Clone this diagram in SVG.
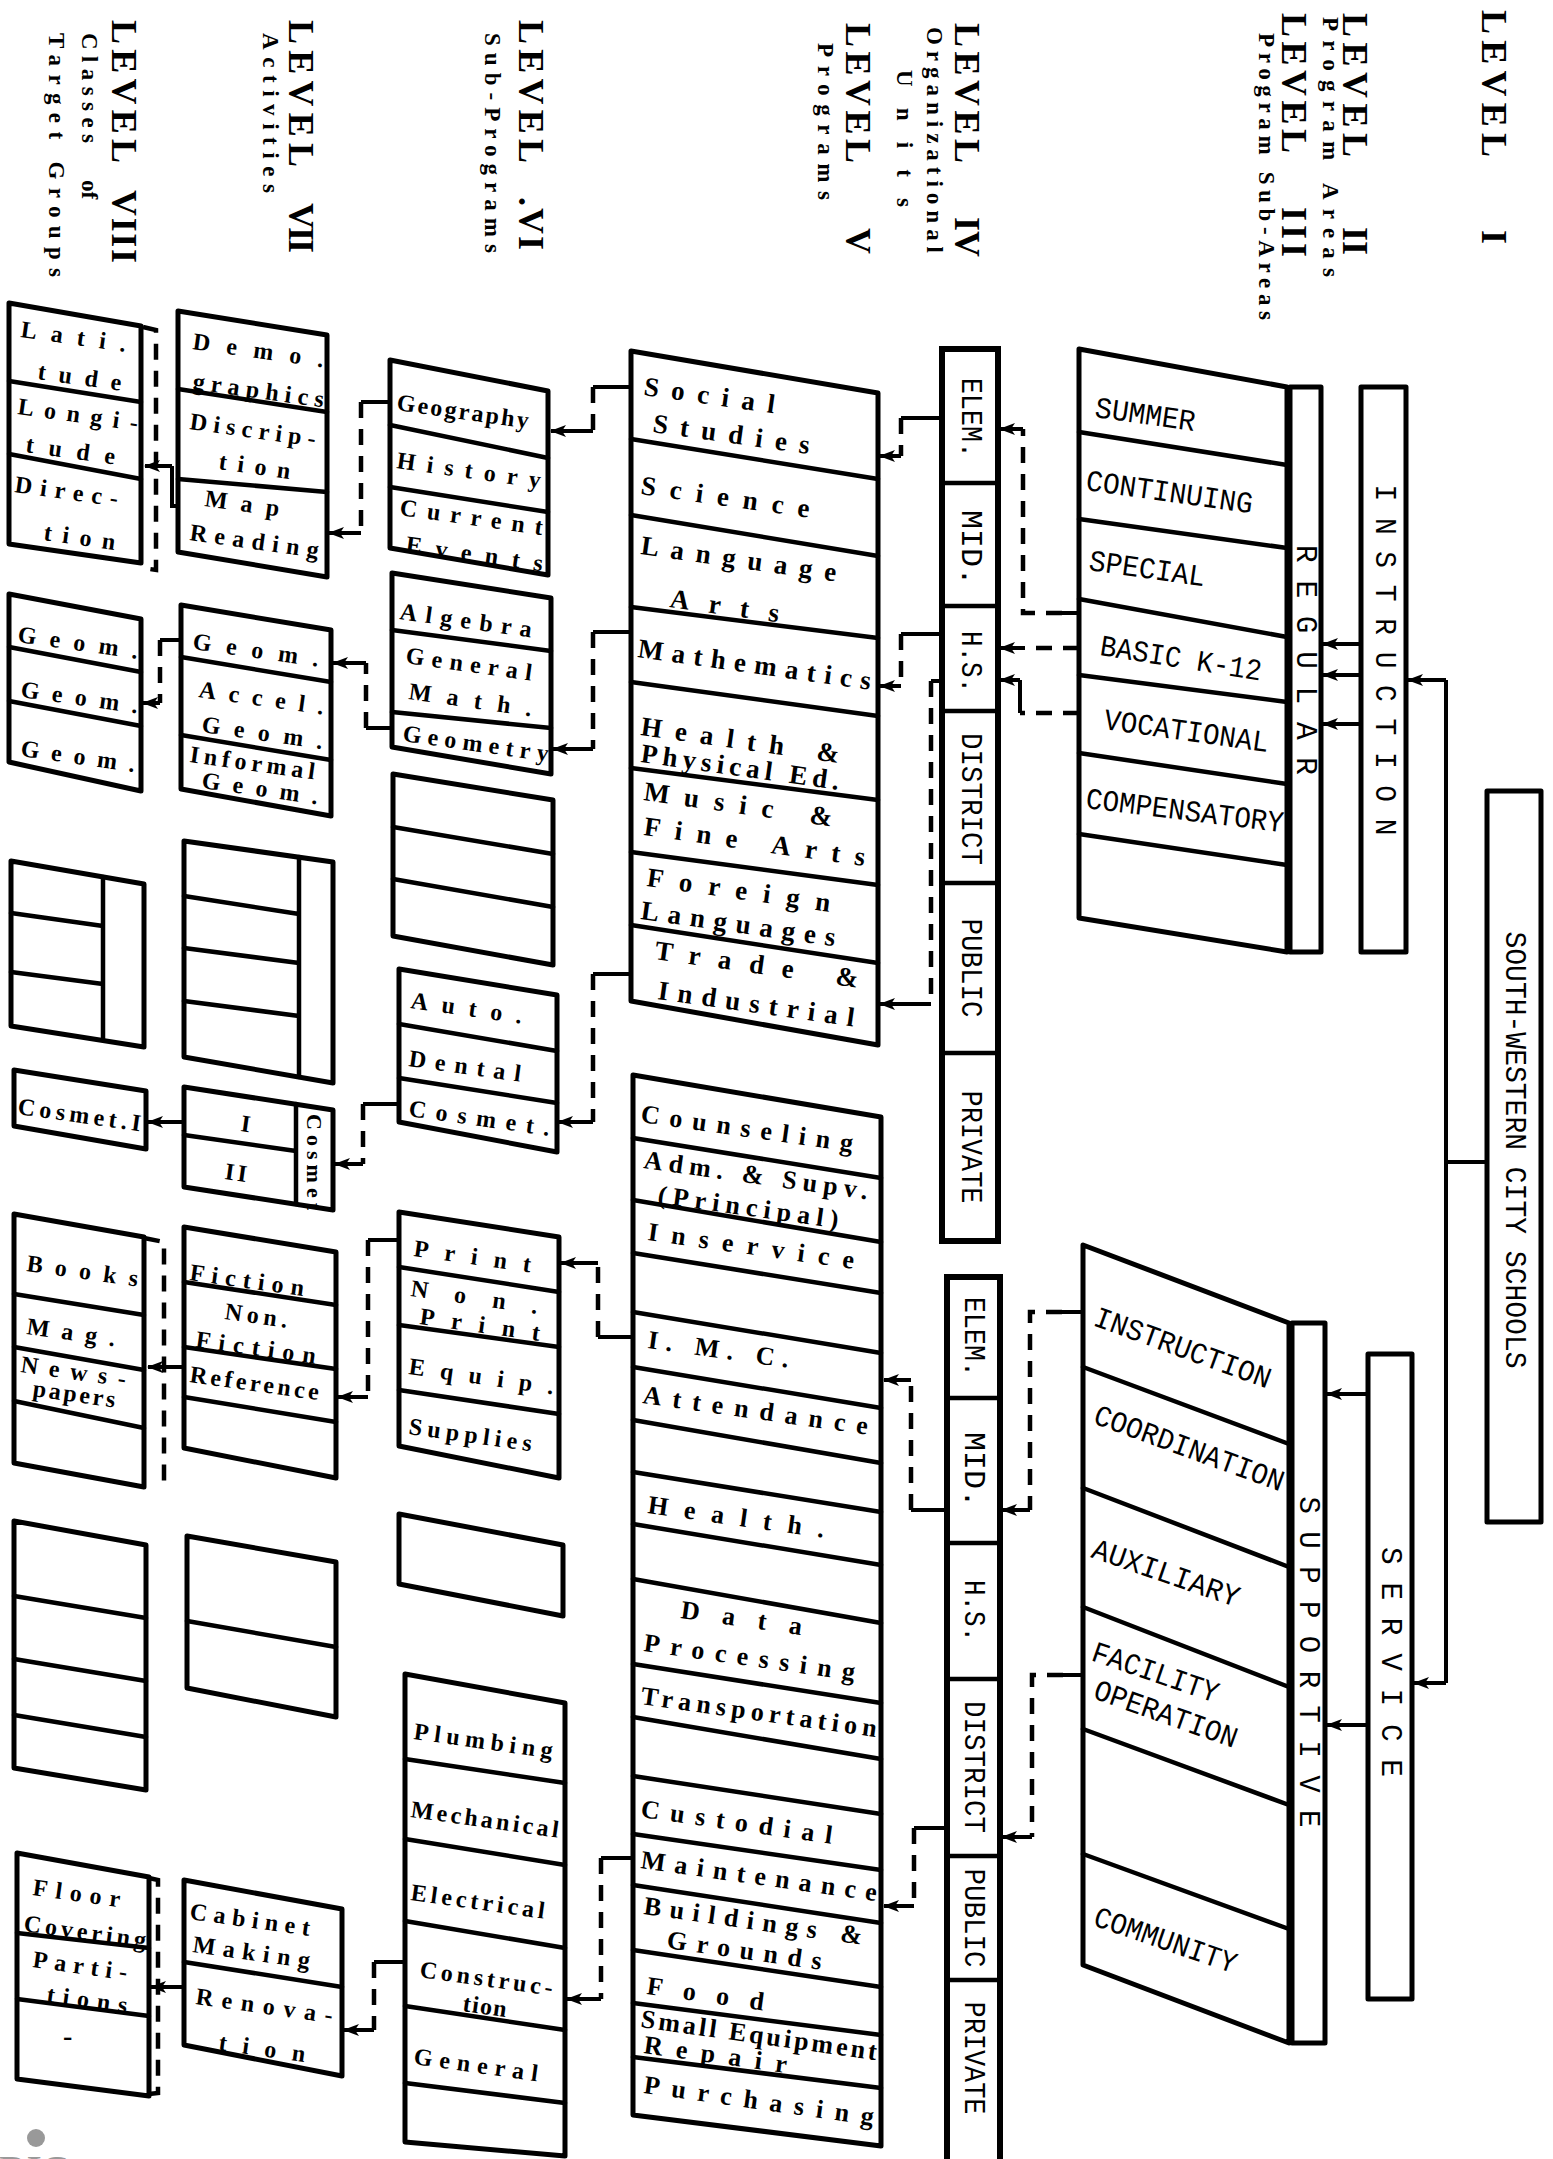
<svg xmlns="http://www.w3.org/2000/svg" width="1553" height="2159" viewBox="0 0 1553 2159">
<style>
.b{fill:none;stroke:#000;stroke-width:5;stroke-linejoin:round}
.c{fill:none;stroke:#000;stroke-width:6}
.d{fill:none;stroke:#000;stroke-width:4.5;stroke-linecap:round}
.s{fill:none;stroke:#000;stroke-width:4}
.q{fill:none;stroke:#000;stroke-width:4.5;stroke-dasharray:16 11}
.lv{font-family:"Liberation Serif",serif;font-weight:bold;font-size:36px;fill:#000}
.ls{font-family:"Liberation Serif",serif;font-weight:bold;font-size:23px;fill:#000}
.mv{font-family:"Liberation Mono",monospace;font-size:30px;fill:#000}
.m{font-family:"Liberation Mono",monospace;font-size:30px;fill:#000}
.t5{font-family:"Liberation Serif",serif;font-weight:bold;font-size:27px;fill:#000}
.t6{font-family:"Liberation Serif",serif;font-weight:bold;font-size:24px;fill:#000}
</style>
<defs>
<marker id="a" viewBox="0 0 16 12" refX="15" refY="6" markerWidth="16" markerHeight="12" markerUnits="userSpaceOnUse" orient="auto"><path d="M0,0L16,6L0,12L4,6Z" fill="#000"/></marker>
</defs>
<rect width="1553" height="2159" fill="#fff"/>

<g id="level-labels">
<text class="lv" transform="translate(1494,10) rotate(90)" dominant-baseline="central" textLength="147">LEVEL</text>
<text class="lv" transform="translate(1494,230) rotate(90)" dominant-baseline="central">I</text>
<text class="lv" transform="translate(1355,13) rotate(90)" dominant-baseline="central" textLength="144">LEVEL</text>
<text class="lv" transform="translate(1355,227) rotate(90)" dominant-baseline="central">II</text>
<text class="ls" transform="translate(1330,17) rotate(90)" dominant-baseline="central" textLength="260">Program Areas</text>
<text class="lv" transform="translate(1294,13) rotate(90)" dominant-baseline="central" textLength="140">LEVEL</text>
<text class="lv" transform="translate(1294,207) rotate(90)" dominant-baseline="central" textLength="50">III</text>
<text class="ls" transform="translate(1266,33) rotate(90)" dominant-baseline="central" textLength="287">Program Sub-Areas</text>
<text class="lv" transform="translate(967,23) rotate(90)" dominant-baseline="central" textLength="140">LEVEL</text>
<text class="lv" transform="translate(967,217) rotate(90)" dominant-baseline="central">IV</text>
<text class="ls" transform="translate(934,27) rotate(90)" dominant-baseline="central" textLength="226">Organizational</text>
<text class="ls" transform="translate(904,70) rotate(90)" dominant-baseline="central" textLength="137">Units</text>
<text class="lv" transform="translate(858,23) rotate(90)" dominant-baseline="central" textLength="140">LEVEL</text>
<text class="lv" transform="translate(858,228) rotate(90)" dominant-baseline="central">V</text>
<text class="ls" transform="translate(825,43) rotate(90)" dominant-baseline="central" textLength="157">Programs</text>
<text class="lv" transform="translate(531,20) rotate(90)" dominant-baseline="central" textLength="143">LEVEL</text>
<text class="lv" transform="translate(531,197) rotate(90)" dominant-baseline="central" textLength="53">.VI</text>
<text class="ls" transform="translate(492,33) rotate(90)" dominant-baseline="central" textLength="220">Sub-Programs</text>
<text class="lv" transform="translate(301,20) rotate(90)" dominant-baseline="central" textLength="147">LEVEL</text>
<text class="lv" transform="translate(301,203) rotate(90)" dominant-baseline="central" textLength="50">VII</text>
<text class="ls" transform="translate(270,33) rotate(90)" dominant-baseline="central" textLength="160">Activities</text>
<text class="lv" transform="translate(124,20) rotate(90)" dominant-baseline="central" textLength="143">LEVEL</text>
<text class="lv" transform="translate(124,190) rotate(90)" dominant-baseline="central" textLength="73">VIII</text>
<text class="ls" transform="translate(89,33) rotate(90)" dominant-baseline="central" textLength="110">Classes</text>
<text class="ls" transform="translate(89,180) rotate(90)" dominant-baseline="central">of</text>
<text class="ls" transform="translate(56,33) rotate(90)" dominant-baseline="central" textLength="244">Target Groups</text>
</g>

<g id="swcs">
<rect class="b" x="1487" y="791" width="54" height="731"/>
<text class="mv" transform="translate(1514,1150) rotate(90)" text-anchor="middle" dominant-baseline="central" textLength="437" lengthAdjust="spacingAndGlyphs">SOUTH-WESTERN CITY SCHOOLS</text>
</g>

<g id="instruction">
<rect class="b" x="1361" y="387" width="45" height="565"/>
<text class="mv" transform="translate(1384,660) rotate(90)" text-anchor="middle" dominant-baseline="central" textLength="351" lengthAdjust="spacingAndGlyphs">I N S T R U C T I O N</text>
</g>
<g id="service">
<rect class="b" x="1368" y="1354" width="44" height="645"/>
<text class="mv" transform="translate(1390,1662) rotate(90)" text-anchor="middle" dominant-baseline="central" textLength="230" lengthAdjust="spacingAndGlyphs">S E R V I C E</text>
</g>
<g id="regular">
<rect class="b" x="1290" y="387" width="31" height="565"/>
<text class="mv" transform="translate(1305,660) rotate(90)" text-anchor="middle" dominant-baseline="central" textLength="230" lengthAdjust="spacingAndGlyphs">R E G U L A R</text>
</g>
<g id="supportive">
<rect class="b" x="1292" y="1323" width="33" height="720"/>
<text class="mv" transform="translate(1308,1662) rotate(90)" text-anchor="middle" dominant-baseline="central" textLength="331" lengthAdjust="spacingAndGlyphs">S U P P O R T I V E</text>
</g>

<g id="sub-areas-regular">
<polygon class="b" points="1079,349 1287,387 1287,952 1079,918"/>
<path class="d" d="M1079,432L1287,465M1079,519L1287,548M1079,599L1287,637M1079,675L1287,702M1079,753L1287,784M1079,834L1287,865"/>
<text class="m" x="1094" y="417" textLength="101" lengthAdjust="spacingAndGlyphs" transform="rotate(8 1094 417)">SUMMER</text>
<text class="m" x="1085" y="490" textLength="168" lengthAdjust="spacingAndGlyphs" transform="rotate(8 1085 490)">CONTINUING</text>
<text class="m" x="1088" y="570" textLength="117" lengthAdjust="spacingAndGlyphs" transform="rotate(8 1088 570)">SPECIAL</text>
<text class="m" x="1099" y="655" textLength="163" lengthAdjust="spacingAndGlyphs" transform="rotate(9 1099 655)">BASIC K-12</text>
<text class="m" x="1103" y="729" textLength="166" lengthAdjust="spacingAndGlyphs" transform="rotate(8 1103 729)">VOCATIONAL</text>
<text class="m" x="1085" y="808" textLength="199" lengthAdjust="spacingAndGlyphs" transform="rotate(7 1085 808)">COMPENSATORY</text>
</g>

<g id="sub-areas-supportive">
<polygon class="b" points="1083,1245 1289,1323 1289,2043 1083,1965"/>
<path class="d" d="M1083,1367L1289,1444M1083,1488L1289,1567M1083,1607L1289,1687M1083,1729L1289,1805M1083,1854L1289,1929"/>
<text class="m" x="1092" y="1325" textLength="186" lengthAdjust="spacingAndGlyphs" transform="rotate(20 1092 1325)">INSTRUCTION</text>
<text class="m" x="1092" y="1423" textLength="200" lengthAdjust="spacingAndGlyphs" transform="rotate(20 1092 1423)">COORDINATION</text>
<text class="m" x="1090" y="1557" textLength="154" lengthAdjust="spacingAndGlyphs" transform="rotate(19 1090 1557)">AUXILIARY</text>
<text class="m" x="1090" y="1660" textLength="132" lengthAdjust="spacingAndGlyphs" transform="rotate(19 1090 1660)">FACILITY</text>
<text class="m" x="1092" y="1698" textLength="150" lengthAdjust="spacingAndGlyphs" transform="rotate(19.5 1092 1698)">OPERATION</text>
<text class="m" x="1092" y="1925" textLength="149" lengthAdjust="spacingAndGlyphs" transform="rotate(19 1092 1925)">COMMUNITY</text>
</g>

<g id="org-units-instruction">
<rect class="c" x="942" y="349" width="56" height="892"/>
<path class="d" d="M942,483H998M942,606H998M942,711H998M942,883H998M942,1053H998"/>
<g class="mv" text-anchor="middle" dominant-baseline="central">
<text transform="translate(970,418) rotate(90)" textLength="80" lengthAdjust="spacingAndGlyphs">ELEM.</text>
<text transform="translate(970,548) rotate(90)" textLength="76" lengthAdjust="spacingAndGlyphs">MID.</text>
<text transform="translate(970,662) rotate(90)" textLength="62" lengthAdjust="spacingAndGlyphs">H.S.</text>
<text transform="translate(970,799) rotate(90)" textLength="132" lengthAdjust="spacingAndGlyphs">DISTRICT</text>
<text transform="translate(970,968) rotate(90)" textLength="99" lengthAdjust="spacingAndGlyphs">PUBLIC</text>
<text transform="translate(970,1147) rotate(90)" textLength="113" lengthAdjust="spacingAndGlyphs">PRIVATE</text>
</g>
</g>

<g id="org-units-service">
<rect class="c" x="947" y="1277" width="53" height="892"/>
<path class="d" d="M947,1398H1000M947,1543H1000M947,1679H1000M947,1856H1000M947,1980H1000"/>
<g class="mv" text-anchor="middle" dominant-baseline="central">
<text transform="translate(973,1337) rotate(90)" textLength="80" lengthAdjust="spacingAndGlyphs">ELEM.</text>
<text transform="translate(973,1470) rotate(90)" textLength="76" lengthAdjust="spacingAndGlyphs">MID.</text>
<text transform="translate(973,1611) rotate(90)" textLength="62" lengthAdjust="spacingAndGlyphs">H.S.</text>
<text transform="translate(973,1767) rotate(90)" textLength="132" lengthAdjust="spacingAndGlyphs">DISTRICT</text>
<text transform="translate(973,1918) rotate(90)" textLength="99" lengthAdjust="spacingAndGlyphs">PUBLIC</text>
<text transform="translate(973,2058) rotate(90)" textLength="113" lengthAdjust="spacingAndGlyphs">PRIVATE</text>
</g>
</g>

<g id="programs-instruction">
<polygon class="b" points="631,351 878,393 878,1045 631,1001"/>
<path class="d" d="M631,439L878,479M631,515L878,556M631,607L878,638M631,682L878,716M631,768L878,800M631,852L878,885M631,925L878,963"/>
<g class="t5">
<text x="643" y="395" textLength="132" transform="rotate(8 643 395)">Social</text>
<text x="652" y="432" textLength="158" transform="rotate(8 652 432)">Studies</text>
<text x="640" y="494" textLength="170" transform="rotate(8 640 494)">Science</text>
<text x="640" y="554" textLength="197" transform="rotate(8 640 554)">Language</text>
<text x="669" y="607" textLength="110" transform="rotate(8 669 607)">Arts</text>
<text x="637" y="657" textLength="235" transform="rotate(8 637 657)">Mathematics</text>
<text x="640" y="735" textLength="200" transform="rotate(8 640 735)">Health &amp;</text>
<text x="640" y="762" textLength="200" transform="rotate(8 640 762)">Physical Ed.</text>
<text x="643" y="800" textLength="190" transform="rotate(8 643 800)">Music &amp;</text>
<text x="643" y="835" textLength="223" transform="rotate(8 643 835)">Fine Arts</text>
<text x="646" y="886" textLength="185" transform="rotate(8 646 886)">Foreign</text>
<text x="640" y="919" textLength="196" transform="rotate(8 640 919)">Languages</text>
<text x="654" y="959" textLength="205" transform="rotate(8 654 959)">Trade &amp;</text>
<text x="657" y="999" textLength="198" transform="rotate(8 657 999)">Industrial</text>
</g>
</g>

<g id="programs-service">
<polygon class="b" points="633,1075 881,1117 881,2146 633,2115"/>
<path class="d" d="M633,1138L881,1178M633,1200L881,1242M633,1253L881,1293M633,1312L881,1353M633,1367L881,1408M633,1420L881,1463M633,1472L881,1512M633,1524L881,1565M633,1579L881,1623M633,1664L881,1703M633,1717L881,1759M633,1776L881,1814M633,1834L881,1870M633,1885L881,1923M633,1950L881,1987M633,2003L881,2035M633,2057L881,2088"/>
<g class="t5" style="font-size:26px">
<text x="640" y="1122" textLength="214" transform="rotate(8 640 1122)">Counseling</text>
<text x="643" y="1168" textLength="226" transform="rotate(8 643 1168)">Adm. &amp; Supv.</text>
<text x="657" y="1203" textLength="182" transform="rotate(8 657 1203)">(Principal)</text>
<text x="647" y="1240" textLength="208" transform="rotate(8 647 1240)">Inservice</text>
<text x="647" y="1348" textLength="142" transform="rotate(8 647 1348)">I. M. C.</text>
<text x="642" y="1403" textLength="227" transform="rotate(8 642 1403)">Attendance</text>
<text x="647" y="1513" textLength="178" transform="rotate(8 647 1513)">Health.</text>
<text x="680" y="1618" textLength="122" transform="rotate(8 680 1618)">Data</text>
<text x="643" y="1651" textLength="213" transform="rotate(8 643 1651)">Processing</text>
<text x="640" y="1704" textLength="238" transform="rotate(8 640 1704)">Transportation</text>
<text x="640" y="1817" textLength="193" transform="rotate(8 640 1817)">Custodial</text>
<text x="640" y="1868" textLength="238" transform="rotate(8 640 1868)">Maintenance</text>
<text x="643" y="1914" textLength="220" transform="rotate(8 643 1914)">Buildings &amp;</text>
<text x="666" y="1948" textLength="156" transform="rotate(8 666 1948)">Grounds</text>
<text x="646" y="1994" textLength="118" transform="rotate(8 646 1994)">Food</text>
<text x="640" y="2027" textLength="238" transform="rotate(8 640 2027)">Small Equipment</text>
<text x="643" y="2053" textLength="144" transform="rotate(8 643 2053)">Repair</text>
<text x="643" y="2093" textLength="232" transform="rotate(8 643 2093)">Purchasing</text>
</g>
</g>

<g id="subprograms-social">
<polygon class="b" points="390,360 548,391 548,575 390,548"/>
<path class="d" d="M390,425L548,458M390,487L548,512"/>
<g class="t6">
<text x="396" y="410" textLength="133" transform="rotate(8 396 410)">Geography</text>
<text x="396" y="468" textLength="145" transform="rotate(8 396 468)">History</text>
<text x="399" y="515" textLength="144" transform="rotate(8 399 515)">Current</text>
<text x="405" y="552" textLength="138" transform="rotate(8 405 552)">Events</text>
</g>
</g>
<g id="subprograms-math">
<polygon class="b" points="392,573 551,598 551,774 392,747"/>
<path class="d" d="M392,630L551,651M392,712L551,728"/>
<g class="t6">
<text x="399" y="619" textLength="133" transform="rotate(8 399 619)">Algebra</text>
<text x="405" y="663" textLength="127" transform="rotate(8 405 663)">General</text>
<text x="408" y="699" textLength="124" transform="rotate(8 408 699)">Math.</text>
<text x="402" y="741" textLength="147" transform="rotate(8 402 741)">Geometry</text>
</g>
</g>
<g id="subprograms-empty-1">
<polygon class="b" points="393,774 553,800 553,965 393,936"/>
<path class="d" d="M393,827L553,854M393,879L553,907"/>
</g>
<g id="subprograms-trade">
<polygon class="b" points="399,969 557,995 557,1152 399,1122"/>
<path class="d" d="M399,1024L557,1051M399,1078L557,1103"/>
<g class="t6">
<text x="410" y="1008" textLength="112" transform="rotate(8 410 1008)">Auto.</text>
<text x="408" y="1066" textLength="113" transform="rotate(8 408 1066)">Dental</text>
<text x="408" y="1116" textLength="142" transform="rotate(8 408 1116)">Cosmet.</text>
</g>
</g>
<g id="subprograms-imc">
<polygon class="b" points="399,1212 559,1237 559,1478 399,1446"/>
<path class="d" d="M399,1267L559,1292M399,1325L559,1347M399,1390L559,1414"/>
<g class="t6">
<text x="413" y="1256" textLength="118" transform="rotate(8 413 1256)">Print</text>
<text x="410" y="1296" textLength="128" transform="rotate(8 410 1296)">Non.</text>
<text x="419" y="1324" textLength="121" transform="rotate(8 419 1324)">Print</text>
<text x="408" y="1374" textLength="146" transform="rotate(8 408 1374)">Equip.</text>
<text x="408" y="1434" textLength="124" transform="rotate(8 408 1434)">Supplies</text>
</g>
</g>
<g id="subprograms-empty-2">
<polygon class="b" points="399,1514 563,1545 563,1616 399,1584"/>
</g>
<g id="subprograms-maintenance">
<polygon class="b" points="405,1674 565,1703 565,2156 405,2142"/>
<path class="d" d="M405,1759L565,1783M405,1839L565,1865M405,1921L565,1948M405,2006L565,2030M405,2083L565,2103"/>
<g class="t6">
<text x="413" y="1739" textLength="140" transform="rotate(8 413 1739)">Plumbing</text>
<text x="410" y="1817" textLength="149" transform="rotate(8 410 1817)">Mechanical</text>
<text x="410" y="1900" textLength="135" transform="rotate(8 410 1900)">Electrical</text>
<text x="419" y="1977" textLength="134" transform="rotate(8 419 1977)">Construc-</text>
<text x="462" y="2011" textLength="44" transform="rotate(8 462 2011)">tion</text>
<text x="413" y="2064" textLength="125" transform="rotate(8 413 2064)">General</text>
</g>
</g>

<g id="activities-geography">
<polygon class="b" points="178,311 327,335 327,577 178,552"/>
<path class="d" d="M178,389L327,412M178,479L327,492"/>
<g class="t6">
<text x="192" y="349" textLength="132" transform="rotate(8 192 349)">Demo.</text>
<text x="192" y="389" textLength="132" transform="rotate(8 192 389)">graphics</text>
<text x="189" y="429" textLength="127" transform="rotate(8 189 429)">Discrip-</text>
<text x="218" y="469" textLength="72" transform="rotate(8 218 469)">tion</text>
<text x="204" y="506" textLength="75" transform="rotate(8 204 506)">Map</text>
<text x="189" y="540" textLength="130" transform="rotate(8 189 540)">Reading</text>
</g>
</g>
<g id="activities-geometry">
<polygon class="b" points="181,605 331,630 331,816 181,789"/>
<path class="d" d="M181,657L331,682M181,735L331,760"/>
<g class="t6">
<text x="192" y="649" textLength="127" transform="rotate(8 192 649)">Geom.</text>
<text x="198" y="697" textLength="126" transform="rotate(8 198 697)">Accel.</text>
<text x="201" y="732" textLength="122" transform="rotate(8 201 732)">Geom.</text>
<text x="189" y="762" textLength="126" transform="rotate(8 189 762)">Informal</text>
<text x="201" y="788" textLength="117" transform="rotate(8 201 788)">Geom.</text>
</g>
</g>
<g id="activities-empty-1">
<polygon class="b" points="184,841 333,862 333,1083 184,1057"/>
<path class="d" d="M184,896L299,914M184,948L299,963M184,1001L299,1016M299,857L299,1077"/>
</g>
<g id="activities-cosmet">
<polygon class="b" points="184,1087 333,1110 333,1210 184,1187"/>
<path class="d" d="M184,1135L296,1151M296,1104L296,1204"/>
<g class="t6">
<text x="240" y="1131" transform="rotate(8 240 1131)">I</text>
<text x="224" y="1179" textLength="22" transform="rotate(8 224 1179)">II</text>
<text transform="translate(314,1162) rotate(90)" text-anchor="middle" dominant-baseline="central" style="font-size:22px" textLength="96">Cosmet</text>
</g>
</g>
<g id="activities-print">
<polygon class="b" points="184,1227 336,1252 336,1478 184,1448"/>
<path class="d" d="M184,1282L336,1305M184,1347L336,1369M184,1397L336,1422"/>
<g class="t6">
<text x="189" y="1280" textLength="115" transform="rotate(8 189 1280)">Fiction</text>
<text x="224" y="1319" textLength="63" transform="rotate(8 224 1319)">Non.</text>
<text x="195" y="1347" textLength="121" transform="rotate(8 195 1347)">Fiction</text>
<text x="189" y="1382" textLength="130" transform="rotate(8 189 1382)">Reference</text>
</g>
</g>
<g id="activities-empty-2">
<polygon class="b" points="187,1536 336,1562 336,1717 187,1688"/>
<path class="d" d="M187,1621L336,1647"/>
</g>
<g id="activities-construction">
<polygon class="b" points="184,1880 342,1909 342,2076 184,2045"/>
<path class="d" d="M184,1962L342,1987"/>
<g class="t6">
<text x="189" y="1919" textLength="121" transform="rotate(8 189 1919)">Cabinet</text>
<text x="192" y="1952" textLength="118" transform="rotate(8 192 1952)">Making</text>
<text x="195" y="2004" textLength="138" transform="rotate(8 195 2004)">Renova-</text>
<text x="218" y="2050" textLength="87" transform="rotate(8 218 2050)">tion</text>
</g>
</g>

<g id="targets-map">
<polygon class="b" points="9,303 141,326 141,563 9,544"/>
<path class="d" d="M9,381L141,402M9,454L141,479"/>
<g class="t6">
<text x="20" y="337" textLength="106" transform="rotate(8 20 337)">Lati.</text>
<text x="37" y="379" textLength="84" transform="rotate(8 37 379)">tude</text>
<text x="17" y="414" textLength="121" transform="rotate(8 17 414)">Longi-</text>
<text x="25" y="452" textLength="90" transform="rotate(8 25 452)">tude</text>
<text x="14" y="492" textLength="104" transform="rotate(8 14 492)">Direc-</text>
<text x="43" y="540" textLength="72" transform="rotate(8 43 540)">tion</text>
</g>
</g>
<g id="targets-geometry">
<polygon class="b" points="9,594 141,619 141,791 9,762"/>
<path class="d" d="M9,647L141,672M9,701L141,726"/>
<g class="t6">
<text x="17" y="642" textLength="121" transform="rotate(8 17 642)">Geom.</text>
<text x="20" y="697" textLength="118" transform="rotate(8 20 697)">Geom.</text>
<text x="20" y="756" textLength="115" transform="rotate(8 20 756)">Geom.</text>
</g>
</g>
<g id="targets-empty-1">
<polygon class="b" points="11,861 144,884 144,1047 11,1026"/>
<path class="d" d="M11,913L103,926M11,972L103,984M103,877L103,1040"/>
</g>
<g id="targets-cosmet">
<polygon class="b" points="14,1070 146,1091 146,1149 14,1126"/>
<text class="t6" x="17" y="1114" textLength="124" transform="rotate(8 17 1114)">Cosmet.I</text>
</g>
<g id="targets-print">
<polygon class="b" points="14,1214 144,1237 144,1487 14,1463"/>
<path class="d" d="M14,1294L144,1315M14,1347L144,1370M14,1401L144,1428"/>
<g class="t6">
<text x="26" y="1271" textLength="112" transform="rotate(8 26 1271)">Books</text>
<text x="26" y="1334" textLength="89" transform="rotate(8 26 1334)">Mag.</text>
<text x="20" y="1372" textLength="106" transform="rotate(8 20 1372)">News-</text>
<text x="32" y="1396" textLength="83" transform="rotate(8 32 1396)">papers</text>
</g>
</g>
<g id="targets-empty-2">
<polygon class="b" points="14,1521 146,1545 146,1790 14,1768"/>
<path class="d" d="M14,1596L146,1618M14,1659L146,1681M14,1715L146,1737"/>
</g>
<g id="targets-renovation">
<polygon class="b" points="17,1853 149,1877 149,2096 17,2079"/>
<path class="d" d="M17,1933L149,1948M17,1999L149,2016"/>
<g class="t6">
<text x="32" y="1895" textLength="88" transform="rotate(8 32 1895)">Floor</text>
<text x="23" y="1931" textLength="123" transform="rotate(8 23 1931)">Covering</text>
<text x="32" y="1967" textLength="95" transform="rotate(8 32 1967)">Parti-</text>
<text x="46" y="2002" textLength="81" transform="rotate(8 46 2002)">tions</text>
<text x="63" y="2045" style="font-size:28px">-</text>
</g>
</g>

<g id="connectors">
<path class="s" d="M1487,1162H1446"/>
<path class="s" d="M1446,680V1683"/>
<path class="s" d="M1446,680H1408" marker-end="url(#a)"/>
<path class="s" d="M1446,1683H1414" marker-end="url(#a)"/>
<path class="s" d="M1361,644H1323" marker-end="url(#a)"/>
<path class="s" d="M1361,675H1323" marker-end="url(#a)"/>
<path class="s" d="M1361,724H1323" marker-end="url(#a)"/>
<path class="s" d="M1368,1394H1327" marker-end="url(#a)"/>
<path class="s" d="M1368,1725H1327" marker-end="url(#a)"/>

<path class="s" d="M1079,613H1062"/><path class="q" d="M1062,613H1023V429"/><path class="s" d="M1023,429H1000" marker-end="url(#a)"/>
<path class="q" d="M1079,648H1025"/><path class="s" d="M1025,648H1000" marker-end="url(#a)"/>
<path class="q" d="M1079,713H1020"/><path class="s" d="M1020,713V680"/><path class="s" d="M1020,680H1000" marker-end="url(#a)"/>
<path class="s" d="M1083,1312H1062"/><path class="q" d="M1062,1312H1030V1510"/><path class="s" d="M1030,1510H1002" marker-end="url(#a)"/>
<path class="s" d="M1083,1675H1063"/><path class="q" d="M1063,1675H1032V1837"/><path class="s" d="M1032,1837H1002" marker-end="url(#a)"/>

<path class="s" d="M942,418H901"/><path class="q" d="M901,418V456"/><path class="s" d="M901,456H880" marker-end="url(#a)"/>
<path class="s" d="M942,634H901"/><path class="q" d="M901,634V686"/><path class="s" d="M901,686H880" marker-end="url(#a)"/>
<path class="s" d="M942,681H931"/><path class="q" d="M931,681V1004"/><path class="s" d="M931,1004H880" marker-end="url(#a)"/>
<path class="s" d="M947,1510H911"/><path class="q" d="M911,1510V1380"/><path class="s" d="M911,1380H884" marker-end="url(#a)"/>
<path class="s" d="M947,1828H914"/><path class="q" d="M914,1828V1906"/><path class="s" d="M914,1906H884" marker-end="url(#a)"/>

<path class="s" d="M631,387H593"/><path class="q" d="M593,387V431"/><path class="s" d="M593,431H551" marker-end="url(#a)"/>
<path class="s" d="M631,632H593"/><path class="q" d="M593,632V749"/><path class="s" d="M593,749H553" marker-end="url(#a)"/>
<path class="s" d="M631,974H593"/><path class="q" d="M593,974V1122"/><path class="s" d="M593,1122H558" marker-end="url(#a)"/>
<path class="s" d="M633,1337H598"/><path class="q" d="M598,1337V1263"/><path class="s" d="M598,1263H561" marker-end="url(#a)"/>
<path class="s" d="M634,1858H601"/><path class="q" d="M601,1858V1999"/><path class="s" d="M601,1999H567" marker-end="url(#a)"/>

<path class="s" d="M390,402H361"/><path class="q" d="M361,402V533"/><path class="s" d="M361,533H329" marker-end="url(#a)"/>
<path class="s" d="M392,728H366"/><path class="q" d="M366,728V663"/><path class="s" d="M366,663H333" marker-end="url(#a)"/>
<path class="s" d="M399,1104H363"/><path class="q" d="M363,1104V1164"/><path class="s" d="M363,1164H335" marker-end="url(#a)"/>
<path class="s" d="M399,1240H368"/><path class="q" d="M368,1240V1397"/><path class="s" d="M368,1397H338" marker-end="url(#a)"/>
<path class="s" d="M405,1962H374"/><path class="q" d="M374,1962V2030"/><path class="s" d="M374,2030H344" marker-end="url(#a)"/>

<path class="s" d="M178,506H172V466"/><path class="s" d="M172,466H145" marker-end="url(#a)"/>
<path class="q" d="M143,327L156,330V570L143,568"/>
<path class="s" d="M181,640H160"/><path class="q" d="M160,640V703"/><path class="s" d="M160,703H143" marker-end="url(#a)"/>
<path class="s" d="M184,1122H148" marker-end="url(#a)"/>
<path class="q" d="M144,1238L164,1242V1487"/>
<path class="s" d="M184,1367H148" marker-end="url(#a)"/>
<path class="q" d="M149,1878L158,1880V2093L149,2094"/>
<path class="s" d="M184,1987H151" marker-end="url(#a)"/>
</g>

<g id="logo">
<circle cx="36" cy="2138" r="9" fill="#999"/>
<text x="-26" y="2182" style="font-family:'Liberation Serif',serif;font-weight:bold;font-size:38px;fill:#999">ERIC</text>
</g>
</svg>
